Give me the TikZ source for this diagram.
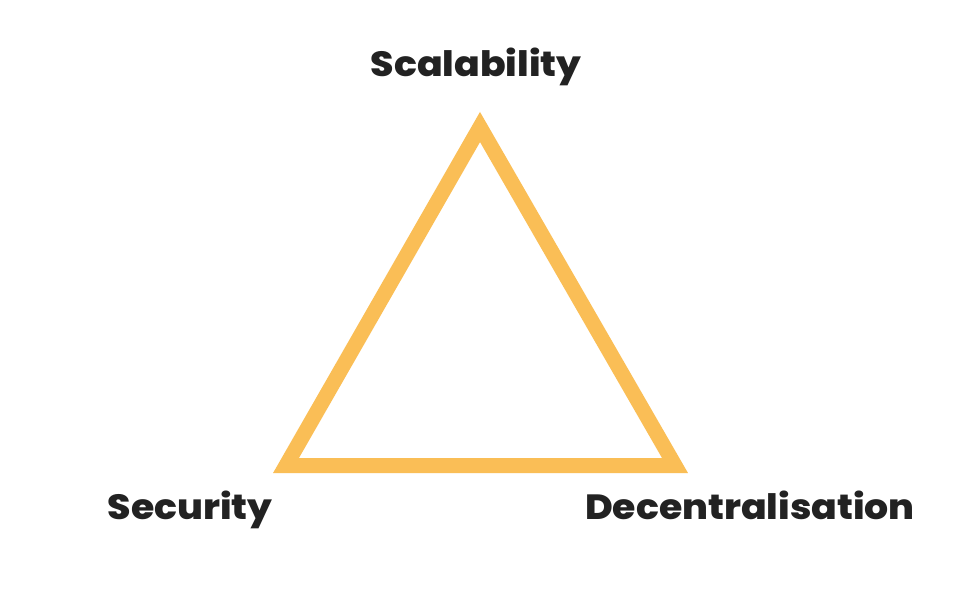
\documentclass[tikz,border=0pt]{standalone}
\usepackage{fontspec}
\usepackage{graphicx}
\setmainfont{Poppins}[BoldFont={Poppins ExtraBold}]
\definecolor{tri}{RGB}{250,190,86}
\definecolor{lbl}{RGB}{34,34,34}
\newcommand{\widelab}[1]{\scalebox{1.08}[1]{#1}}
\begin{document}
\begin{tikzpicture}[x=1pt,y=-1pt,
  lab/.style={font=\fontsize{35}{40}\selectfont\bfseries, text=lbl, inner sep=0pt, anchor=base}]
\useasboundingbox (0,0) rectangle (960,594);
\fill[white] (0,0) rectangle (960,594);
\coordinate (A) at (480,127);
\coordinate (B) at (286,465.5);
\coordinate (C) at (675,465.5);
\draw[tri, line width=15pt, line join=miter] (A) -- (B) -- (C) -- cycle;
\node[lab] (top) at (476,77) {\widelab{Scalability}};
\node[lab] (left) at (190,519) {\widelab{Security}};
\node[lab] (right) at (750,519) {\widelab{Decentralisation}};
\end{tikzpicture}
\end{document}
